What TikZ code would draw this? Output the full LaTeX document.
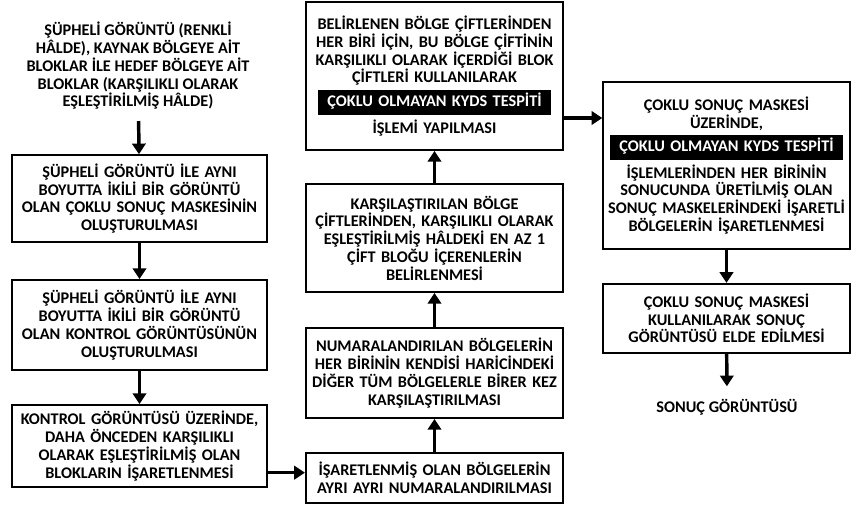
\documentclass[tikz,border=0pt]{standalone}
\usepackage{fontspec}
\setmainfont{Carlito}
\usetikzlibrary{arrows.meta}

% black bar inside the two boxes
\newcommand{\kydsbar}{{\setlength{\fboxsep}{0pt}\colorbox{black}{\rule[-6.5pt]{0pt}{19pt}\makebox[175pt]{\color{white}ÇOKLU OLMAYAN KYDS TESPİTİ}}}}

\begin{document}
\begin{tikzpicture}[
          x=0.75pt, y=-0.75pt, % pixel grid of the figure
          every node/.style={font=\bfseries\fontsize{12.2}{13.3}\selectfont, align=center},
          stepbox/.style={draw, line width=1.4pt, inner xsep=0pt, inner ysep=0pt},
          leftbox/.style={stepbox, text width=191pt},
          midbox/.style={stepbox, text width=193pt},
          rightbox/.style={stepbox, text width=185pt},
          flow/.style={-{Triangle[length=8pt,width=10pt]}, line width=2.6pt}
        ]
        \useasboundingbox (0,0) rectangle (852,506);

        % left column
        \node (input) at (138,66) {ŞÜPHELİ GÖRÜNTÜ (RENKLİ\\ HÂLDE), KAYNAK BÖLGEYE AİT\\ BLOKLAR İLE HEDEF BÖLGEYE AİT\\ BLOKLAR (KARŞILIKLI OLARAK\\ EŞLEŞTİRİLMİŞ HÂLDE)};
        \node [leftbox, minimum height=65pt] (mask) at (139.5,198.5) {ŞÜPHELİ GÖRÜNTÜ İLE AYNI\\ BOYUTTA İKİLİ BİR GÖRÜNTÜ\\ OLAN ÇOKLU SONUÇ MASKESİNİN\\ OLUŞTURULMASI};
        \node [leftbox, minimum height=67.5pt] (control) at (139.5,325) {ŞÜPHELİ GÖRÜNTÜ İLE AYNI\\ BOYUTTA İKİLİ BİR GÖRÜNTÜ\\ OLAN KONTROL GÖRÜNTÜSÜNÜN\\ OLUŞTURULMASI};
        \node [leftbox, minimum height=61.5pt] (marking) at (139.5,446) {KONTROL GÖRÜNTÜSÜ ÜZERİNDE,\\ DAHA ÖNCEDEN KARŞILIKLI\\ OLARAK EŞLEŞTİRİLMİŞ OLAN\\ BLOKLARIN İŞARETLENMESİ};

        % middle column, read upwards
        \node [midbox, minimum height=37.5pt] (numbering) at (434.5,478) {İŞARETLENMİŞ OLAN BÖLGELERİN\\ AYRI AYRI NUMARALANDIRILMASI};
        \node [midbox, minimum height=67.5pt] (compare) at (434.5,373) {NUMARALANDIRILAN BÖLGELERİN\\ HER BİRİNİN KENDİSİ HARİCİNDEKİ\\ DİĞER TÜM BÖLGELERLE BİRER KEZ\\ KARŞILAŞTIRILMASI};
        \node [midbox, minimum height=81pt] (select) at (434.5,238) {KARŞILAŞTIRILAN BÖLGE\\ ÇİFTLERİNDEN, KARŞILIKLI OLARAK\\ EŞLEŞTİRİLMİŞ HÂLDEKİ EN AZ 1\\ ÇİFT BLOĞU İÇERENLERİN\\ BELİRLENMESİ};
        \node [midbox, minimum height=111pt] (detect) at (434.5,76) {BELİRLENEN BÖLGE ÇİFTLERİNDEN\\ HER BİRİ İÇİN, BU BÖLGE ÇİFTİNİN\\ KARŞILIKLI OLARAK İÇERDİĞİ BLOK\\ ÇİFTLERİ KULLANILARAK\\[2pt] \kydsbar\\[2.5pt] İŞLEMİ YAPILMASI};

        % right column
        \node [rightbox, minimum height=125pt] (merge) at (726.5,165.5) {ÇOKLU SONUÇ MASKESİ\\ ÜZERİNDE,\\[2pt] \kydsbar\\[2.5pt] İŞLEMLERİNDEN HER BİRİNİN\\ SONUCUNDA ÜRETİLMİŞ OLAN\\ SONUÇ MASKELERİNDEKİ İŞARETLİ\\ BÖLGELERİN İŞARETLENMESİ};
        \node [rightbox, minimum height=52pt] (result) at (726.5,318.5) {ÇOKLU SONUÇ MASKESİ\\ KULLANILARAK SONUÇ\\ GÖRÜNTÜSÜ ELDE EDİLMESİ};
        \node (output) at (727,407) {SONUÇ GÖRÜNTÜSÜ};

        % connectors
        \draw [flow, shorten <=5pt] (input) -- (mask);
        \draw [flow] (mask) -- (control);
        \draw [flow] (control) -- (marking);
        \draw [flow] ([yshift=4pt]numbering.west -| marking.east) -- ([yshift=4pt]numbering.west);
        \draw [flow] (numbering) -- (compare);
        \draw [flow] (compare) -- (select);
        \draw [flow] (select) -- (detect);
        \draw [flow] ([yshift=-31.5pt]detect.east) -- ([yshift=-31.5pt]detect.east -| merge.west);
        \draw [flow] (merge) -- (result);
        \draw [flow, shorten >=6pt] (result) -- (output);
\end{tikzpicture}
\end{document}
